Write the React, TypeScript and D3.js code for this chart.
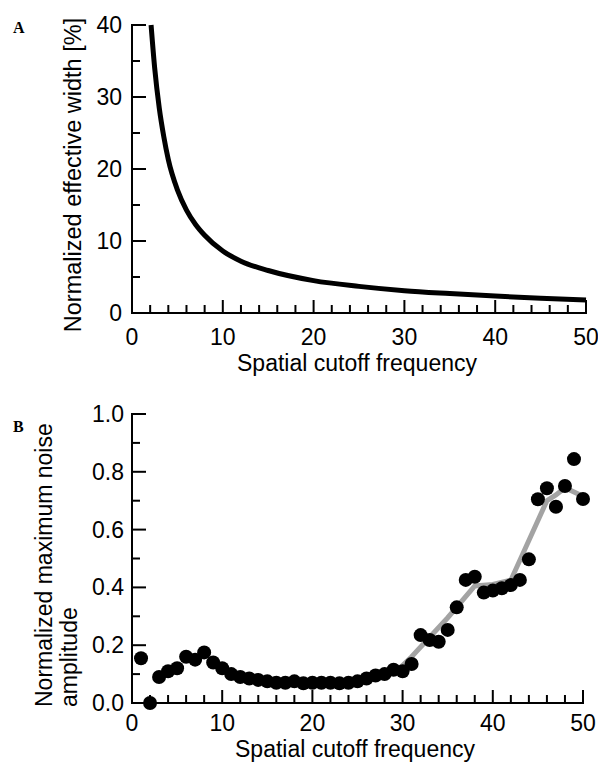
import React, { useEffect, useRef } from 'react';
import * as d3 from 'd3';

// Panel A: normalized effective width vs spatial cutoff frequency
const widthFreq = [2.1, 2.5, 3, 3.5, 4, 5, 6, 7, 8, 10, 12, 15, 20, 25, 30, 35, 40, 45, 50];
const widthValues = [40, 34, 28.5, 24.5, 21.3, 17.1, 14.3, 12.3, 10.8, 8.6, 7.2, 5.9, 4.5, 3.7, 3.1, 2.7, 2.35, 2.05, 1.8];

// Panel B: normalized maximum noise amplitude, one point per frequency
const noiseFreq = [
  1, 2, 3, 4, 5, 6, 7, 8, 9, 10, 11, 12, 13, 14, 15, 16, 17, 18, 19, 20, 21, 22, 23, 24, 25,
  26, 27, 28, 29, 30, 31, 32, 33, 34, 35, 36, 37, 38, 39, 40, 41, 42, 43, 44, 45, 46, 47, 48, 49, 50,
];
const noiseValues = [
  0.155, 0.0, 0.09, 0.11, 0.12, 0.16, 0.15, 0.175, 0.14, 0.12,
  0.1, 0.09, 0.085, 0.08, 0.075, 0.07, 0.07, 0.075, 0.068, 0.07,
  0.07, 0.07, 0.068, 0.07, 0.075, 0.085, 0.095, 0.1, 0.115, 0.11,
  0.135, 0.235, 0.218, 0.212, 0.253, 0.331, 0.426, 0.437, 0.382, 0.389,
  0.397, 0.408, 0.426, 0.497, 0.705, 0.743, 0.679, 0.751, 0.844, 0.706,
];

// grey trend line in panel B
const trendFreq = [29, 31, 35, 38, 40, 42, 46, 47, 48, 50];
const trendValues = [0.1, 0.16, 0.295, 0.405, 0.41, 0.425, 0.7, 0.72, 0.745, 0.715];

const xMajorTicks = [0, 10, 20, 30, 40, 50];
const xMinorTicks = [2, 4, 6, 8, 12, 14, 16, 18, 22, 24, 26, 28, 32, 34, 36, 38, 42, 44, 46, 48];
const widthMajorTicks = [0, 10, 20, 30, 40];
const widthMinorTicks = [5, 15, 25, 35];
const noiseMajorTicks = [0, 0.2, 0.4, 0.6, 0.8, 1.0];
const noiseMinorTicks = [0.1, 0.3, 0.5, 0.7, 0.9];

const FONT = '"Liberation Sans", Arial, Helvetica, sans-serif';
const FONT_SIZE = 23;

const App = () => {
  const ref = useRef<SVGSVGElement>(null);

  useEffect(() => {
    const svg = d3.select(ref.current);
    svg.selectAll('*').remove();

    const drawAxes = (g, x, y, yMajor, yMinor, yFormat, yLabelX, xLabelY) => {
      const [bottom, top] = y.range();
      const [left, right] = x.range();

      const tick = (data, x1, y1, x2, y2) => g.append('g').selectAll('line')
        .data(data).enter().append('line')
        .attr('x1', x1).attr('y1', y1).attr('x2', x2).attr('y2', y2)
        .attr('stroke', '#000').attr('stroke-width', 2);

      // inward ticks
      tick(xMinorTicks, (d) => x(d), bottom, (d) => x(d), bottom - 8);
      tick(xMajorTicks, (d) => x(d), bottom, (d) => x(d), bottom - 13);
      tick(yMinor, left, (d) => y(d), left + 8, (d) => y(d));
      tick(yMajor, left, (d) => y(d), left + 14, (d) => y(d));

      // axis lines
      g.append('path')
        .attr('d', `M${left},${top}V${bottom}H${right}`)
        .attr('fill', 'none').attr('stroke', '#000').attr('stroke-width', 2)
        .attr('stroke-linecap', 'square');

      g.append('g').selectAll('text')
        .data(xMajorTicks).enter().append('text')
        .attr('x', (d) => x(d)).attr('y', xLabelY)
        .attr('text-anchor', 'middle')
        .style('font-family', FONT).style('font-size', `${FONT_SIZE}px`)
        .text(d3.format('d'));
      g.append('g').selectAll('text')
        .data(yMajor).enter().append('text')
        .attr('x', yLabelX).attr('y', (d) => y(d)).attr('dy', '0.35em')
        .attr('text-anchor', 'end')
        .style('font-family', FONT).style('font-size', `${FONT_SIZE}px`)
        .text(yFormat);
    };

    // ---------- Panel A ----------
    const xA = d3.scaleLinear().domain([0, 50]).range([132, 586]);
    const yA = d3.scaleLinear().domain([0, 40]).range([313, 25]);
    const gA = svg.append('g');
    drawAxes(gA, xA, yA, widthMajorTicks, widthMinorTicks, d3.format('d'), 122, 345);

    const line = d3.line<number>()
      .x((d, i) => xA(widthFreq[i]))
      .y((d) => yA(d))
      .curve(d3.curveMonotoneX);
    gA.append('path')
      .attr('d', line(widthValues))
      .attr('fill', 'none')
      .attr('stroke', '#000')
      .attr('stroke-width', 5);

    gA.append('text')
      .attr('x', 357).attr('y', 371)
      .attr('text-anchor', 'middle')
      .style('font-family', FONT).style('font-size', `${FONT_SIZE}px`)
      .text('Spatial cutoff frequency');
    gA.append('text')
      .attr('transform', 'translate(81,175) rotate(-90)')
      .attr('text-anchor', 'middle')
      .style('font-family', FONT).style('font-size', '23.5px')
      .text('Normalized effective width [%]');
    gA.append('text')
      .attr('x', 13).attr('y', 33)
      .style('font-family', '"Liberation Serif", "Times New Roman", serif')
      .style('font-size', '16px').style('font-weight', 'bold')
      .text('A');

    // ---------- Panel B ----------
    const xB = d3.scaleLinear().domain([0, 50]).range([132, 583]);
    const yB = d3.scaleLinear().domain([0, 1]).range([703, 414]);
    const gB = svg.append('g');
    drawAxes(gB, xB, yB, noiseMajorTicks, noiseMinorTicks, d3.format('.1f'), 124, 731);

    const trend = d3.line<number>()
      .x((d, i) => xB(trendFreq[i]))
      .y((d) => yB(d));
    gB.append('path')
      .attr('d', trend(trendValues))
      .attr('fill', 'none')
      .attr('stroke', '#a3a3a3')
      .attr('stroke-width', 5);

    gB.append('g').selectAll('circle')
      .data(noiseValues)
      .enter()
      .append('circle')
      .attr('cx', (d, i) => xB(noiseFreq[i]))
      .attr('cy', (d) => yB(d))
      .attr('r', 7)
      .attr('fill', '#000');

    gB.append('text')
      .attr('x', 355).attr('y', 757)
      .attr('text-anchor', 'middle')
      .style('font-family', FONT).style('font-size', `${FONT_SIZE}px`)
      .text('Spatial cutoff frequency');
    const yTitle = gB.append('text')
      .attr('transform', 'translate(0,707) rotate(-90)')
      .attr('text-anchor', 'start')
      .style('font-family', FONT).style('font-size', `${FONT_SIZE}px`);
    yTitle.append('tspan').attr('x', 0).attr('y', 52).text('Normalized maximum noise');
    yTitle.append('tspan').attr('x', 0).attr('y', 77).text('amplitude');
    gB.append('text')
      .attr('x', 13).attr('y', 432)
      .style('font-family', '"Liberation Serif", "Times New Roman", serif')
      .style('font-size', '16px').style('font-weight', 'bold')
      .text('B');
  }, []);

  return (
    <svg
      ref={ref}
      width={598}
      height={765}
      style={{ position: 'absolute', left: 0, top: 0, background: '#fff' }}
    />
  );
};

export default App;
